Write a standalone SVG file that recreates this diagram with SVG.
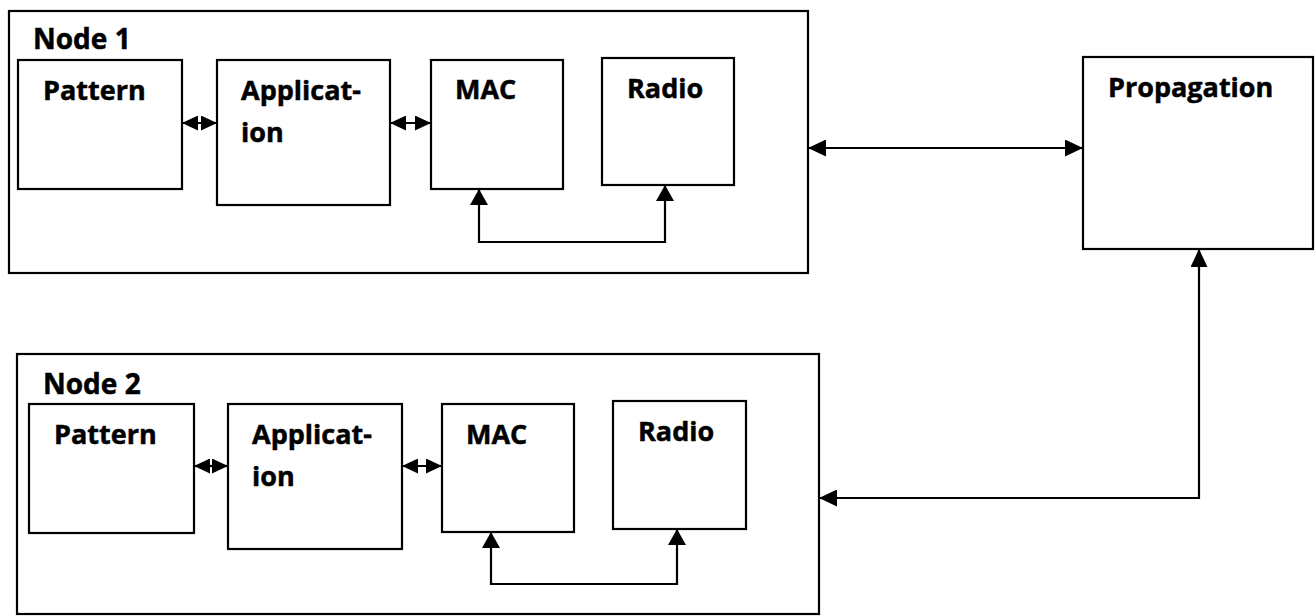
<svg xmlns="http://www.w3.org/2000/svg" width="1316" height="616" viewBox="0 0 1316 616">
  <style>
    .frame { fill: #ffffff; stroke: #000000; stroke-width: 2.2; }
    .box { fill: #ffffff; stroke: #000000; stroke-width: 2.2; }
    .lbl { font-family: "Open Sans", "Noto Sans", "Liberation Sans", sans-serif; font-weight: bold; font-size: 27px; fill: #000000; stroke: #000000; stroke-width: 0.5; }
    .title { font-size: 28px; }
    .wire { fill: none; stroke: #000000; stroke-width: 2.2; }
    .big { marker-start: url(#tipL); marker-end: url(#tipL); }
    .mid { marker-start: url(#tipM); marker-end: url(#tipM); }
    .small { marker-start: url(#tipS); marker-end: url(#tipS); }
  </style>
  <defs>
    <marker id="tipL" viewBox="0 0 18 17" refX="17" refY="8.5" markerWidth="18" markerHeight="17" markerUnits="userSpaceOnUse" orient="auto-start-reverse">
      <path d="M0,0 L18,8.5 L0,17 z" fill="#000000"/>
    </marker>
    <marker id="tipM" viewBox="0 0 16 18" refX="15" refY="9" markerWidth="16" markerHeight="18" markerUnits="userSpaceOnUse" orient="auto-start-reverse">
      <path d="M0,0 L16,9 L0,18 z" fill="#000000"/>
    </marker>
    <marker id="tipS" viewBox="0 0 16 15" refX="15" refY="7.5" markerWidth="16" markerHeight="15" markerUnits="userSpaceOnUse" orient="auto-start-reverse">
      <path d="M0,0 L16,7.5 L0,15 z" fill="#000000"/>
    </marker>
  </defs>

  <rect width="1316" height="616" fill="#ffffff"/>

  <!-- Node 1 container and its layers -->
  <g id="node1">
    <rect class="frame" x="9" y="11" width="799" height="262"/>
    <text class="lbl title" x="33" y="49">Node 1</text>
  </g>
  <g id="node1-pattern">
    <rect class="box" x="18" y="60" width="164" height="129"/>
    <text class="lbl" x="43" y="100">Pattern</text>
  </g>
  <g id="node1-application">
    <rect class="box" x="217" y="60" width="173" height="145"/>
    <text class="lbl" x="241" y="100">Applicat-</text>
    <text class="lbl" x="241" y="142">ion</text>
  </g>
  <g id="node1-mac">
    <rect class="box" x="431" y="60" width="132" height="129"/>
    <text class="lbl" x="455" y="99">MAC</text>
  </g>
  <g id="node1-radio">
    <rect class="box" x="602" y="58" width="132" height="127"/>
    <text class="lbl" x="627" y="98">Radio</text>
  </g>

  <!-- Shared propagation model -->
  <g id="propagation">
    <rect class="box" x="1083" y="57" width="230" height="192"/>
    <text class="lbl" x="1108" y="97">Propagation</text>
  </g>

  <!-- Node 2 container and its layers -->
  <g id="node2">
    <rect class="frame" x="17" y="354" width="802" height="260"/>
    <text class="lbl title" x="43" y="394">Node 2</text>
  </g>
  <g id="node2-pattern">
    <rect class="box" x="29" y="404" width="165" height="129"/>
    <text class="lbl" x="54" y="444">Pattern</text>
  </g>
  <g id="node2-application">
    <rect class="box" x="228" y="404" width="174" height="145"/>
    <text class="lbl" x="252" y="444">Applicat-</text>
    <text class="lbl" x="252" y="486">ion</text>
  </g>
  <g id="node2-mac">
    <rect class="box" x="442" y="404" width="132" height="128"/>
    <text class="lbl" x="466" y="444">MAC</text>
  </g>
  <g id="node2-radio">
    <rect class="box" x="613" y="401" width="133" height="128"/>
    <text class="lbl" x="638" y="441">Radio</text>
  </g>

  <!-- Connectors -->
  <g id="connectors">
    <path class="wire small" d="M183,123 H216"/>
    <path class="wire small" d="M391,123 H430"/>
    <path class="wire mid" d="M479,190 V242 H665 V186"/>
    <path class="wire big" d="M809,148 H1082"/>
    <path class="wire big" d="M1199,250 V498 H820"/>
    <path class="wire small" d="M195,466 H227"/>
    <path class="wire small" d="M403,466 H441"/>
    <path class="wire mid" d="M491,533 V584 H677 V530"/>
  </g>
</svg>
